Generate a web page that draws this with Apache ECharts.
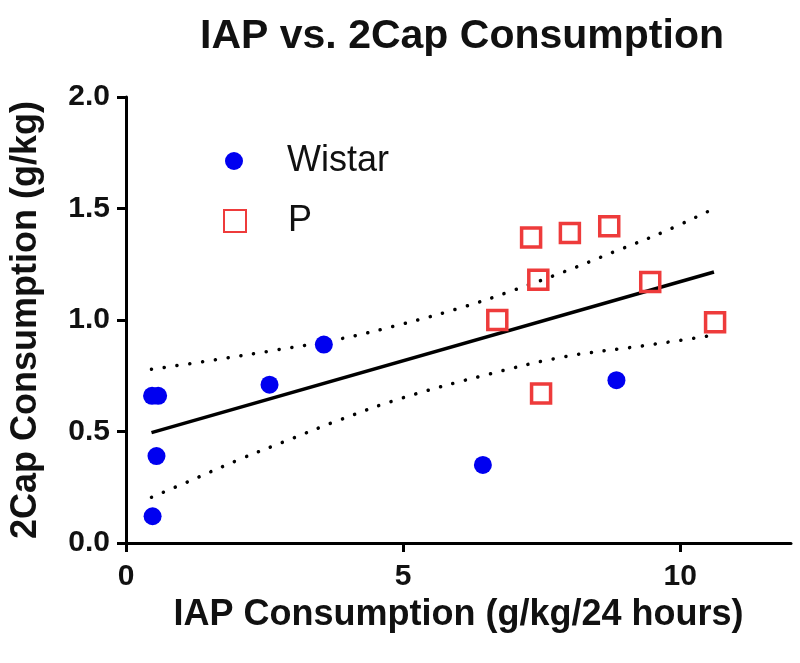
<!DOCTYPE html>
<html>
<head>
<meta charset="utf-8">
<script src="https://cdn.jsdelivr.net/npm/echarts@6/dist/echarts.min.js"></script>
<style>
html,body{margin:0;padding:0;background:#fff;}
#chart{width:800px;height:663px;}
</style>
</head>
<body>
<div id="chart"></div>
<script>
// Data
var wistarX = [0.47, 0.58, 0.55, 0.48, 2.59, 3.57, 6.44, 8.85];
var wistarY = [0.66, 0.66, 0.39, 0.12, 0.71, 0.89, 0.35, 0.73];
var pX = [7.31, 8.01, 8.72, 7.44, 9.46, 6.70, 10.63, 7.49];
var pY = [1.37, 1.39, 1.42, 1.18, 1.17, 1.00, 0.99, 0.67];
var fitX = [0.46, 10.61];
var fitY = [0.495, 1.215];
var upperX = [0.46, 1.60, 2.63, 3.82, 4.97, 6.11, 7.01, 7.91, 8.81, 9.71, 10.58];
var upperY = [0.779, 0.821, 0.862, 0.913, 0.981, 1.060, 1.135, 1.217, 1.306, 1.396, 1.496];
var lowerX = [0.46, 1.12, 2.02, 2.90, 3.77, 4.97, 6.53, 7.91, 9.35, 10.58];
var lowerY = [0.205, 0.275, 0.372, 0.459, 0.544, 0.649, 0.756, 0.835, 0.885, 0.931];
var xTicks = [0, 5, 10];
var yTicks = [0, 0.5, 1.0, 1.5, 2.0];

function zip(a, b) { return a.map(function (v, i) { return [v, b[i]]; }); }

var FONT = '"Liberation Sans", Arial, sans-serif';
var chart = echarts.init(document.getElementById('chart'), null, {renderer: 'canvas'});
var dotted = {color: '#000', width: 3.5, type: [0.1, 12.8], cap: 'round'};

chart.setOption({
  animation: false,
  backgroundColor: '#fff',
  title: {
    text: 'IAP vs. 2Cap Consumption',
    left: 457, top: 11, textAlign: 'center',
    textStyle: {fontFamily: FONT, fontSize: 41, fontWeight: 'bold', color: '#111'}
  },
  legend: [{
    data: ['Wistar'], orient: 'vertical', left: 220, top: 138,
    itemWidth: 18, itemHeight: 18,
    textStyle: {fontFamily: FONT, fontSize: 36, color: '#111', padding: [0, 0, 0, 39]}
  }, {
    data: ['P'], orient: 'vertical', left: 218, top: 198,
    itemWidth: 22, itemHeight: 22,
    textStyle: {fontFamily: FONT, fontSize: 36, color: '#111', padding: [0, 0, 0, 37]}
  }],
  grid: {left: 121, right: 9, top: 97, bottom: 120, containLabel: false},
  xAxis: {
    type: 'value', min: 0, max: 12, interval: 5,
    name: 'IAP Consumption (g/kg/24 hours)', nameLocation: 'middle', nameGap: 53,
    nameTextStyle: {fontFamily: FONT, fontSize: 36, fontWeight: 'bold', color: '#111'},
    axisLine: {show: true, lineStyle: {color: '#000', width: 3}},
    axisTick: {show: true, length: 9, lineStyle: {color: '#000', width: 3}, customValues: xTicks},
    axisLabel: {fontFamily: FONT, fontSize: 30, fontWeight: 'bold', color: '#111', margin: 19, customValues: xTicks},
    splitLine: {show: false}
  },
  yAxis: {
    type: 'value', min: 0, max: 2, interval: 0.5,
    name: '2Cap Consumption (g/kg)', nameLocation: 'middle', nameGap: 82,
    nameTextStyle: {fontFamily: FONT, fontSize: 36, fontWeight: 'bold', color: '#111'},
    axisLine: {show: true, lineStyle: {color: '#000', width: 3}},
    axisTick: {show: true, length: 9, lineStyle: {color: '#000', width: 3}, customValues: yTicks},
    axisLabel: {fontFamily: FONT, fontSize: 30, fontWeight: 'bold', color: '#111', margin: 16,
      customValues: yTicks, formatter: function (v) { return v.toFixed(1); }},
    splitLine: {show: false}
  },
  series: [{
    name: 'Upper', type: 'line', data: zip(upperX, upperY), smooth: 0.4, symbol: 'none',
    lineStyle: dotted, z: 2
  }, {
    name: 'Lower', type: 'line', data: zip(lowerX, lowerY), smooth: 0.4, symbol: 'none',
    lineStyle: dotted, z: 2
  }, {
    name: 'Fit', type: 'line', data: zip(fitX, fitY), symbol: 'none',
    lineStyle: {color: '#000', width: 3.5}, z: 3
  }, {
    name: 'Wistar', type: 'scatter', data: zip(wistarX, wistarY),
    symbol: 'circle', symbolSize: 18,
    itemStyle: {color: '#0000f0', opacity: 1}, z: 4
  }, {
    name: 'P', type: 'scatter', data: zip(pX, pY),
    symbol: 'rect', symbolSize: 19,
    itemStyle: {color: 'rgba(255,255,255,0)', borderColor: '#ee3b3b', borderWidth: 3.5, opacity: 1}, z: 5
  }]
});
</script>
</body>
</html>
